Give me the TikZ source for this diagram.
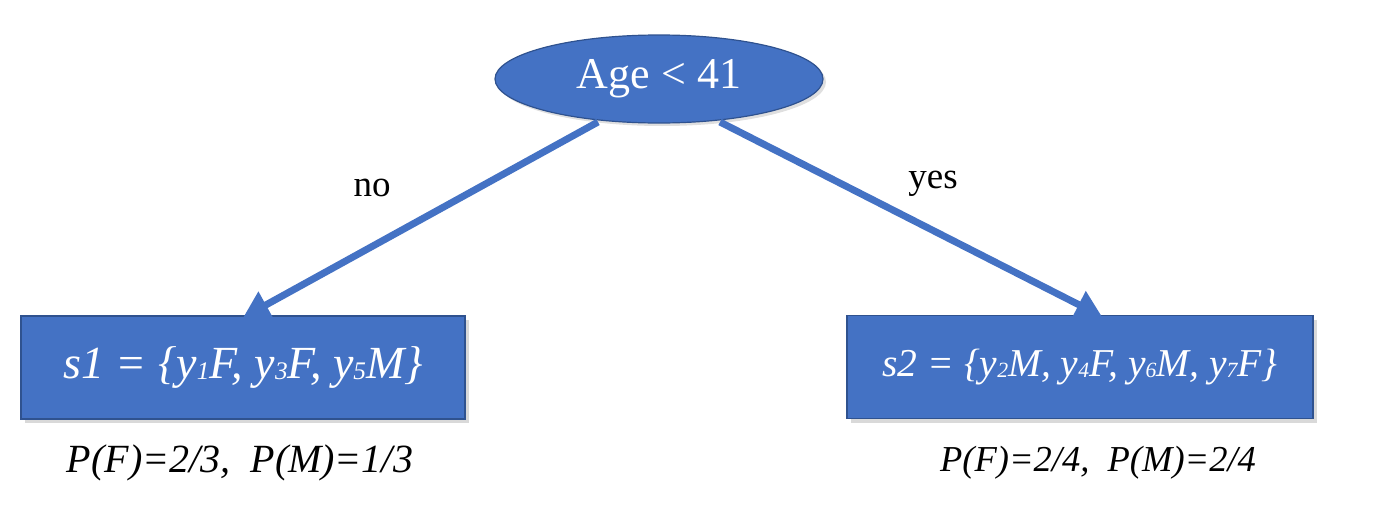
\documentclass[tikz,border=0pt]{standalone}
\usepackage{fontspec}
\setmainfont{Liberation Serif}
\usetikzlibrary{shapes.geometric,shadows,arrows.meta}
\definecolor{boxblue}{HTML}{4472C4}
\definecolor{boxedge}{HTML}{2F528F}
\tikzset{
  splitnode/.style={ellipse, fill=boxblue, draw=boxedge, line width=1.2pt,
    minimum width=328pt, minimum height=88pt, inner sep=0pt, text=white,
    font=\fontsize{44}{48}\selectfont,
    drop shadow={opacity=0.25, shadow xshift=3pt, shadow yshift=-3pt}},
  leafnode/.style={rectangle, fill=boxblue, draw=boxedge, line width=1.2pt,
    minimum height=103pt, inner sep=0pt, text=white,
    drop shadow={opacity=0.3, shadow xshift=4pt, shadow yshift=-4pt}},
  edgearrow/.style={draw=boxblue, line width=7pt,
    -{Triangle[length=26pt,width=29pt]}, shorten >=-1pt},
  edgelabel/.style={font=\fontsize{37}{40}\selectfont, text=black},
  probtext/.style={font=\itshape, text=black}
}
\newcommand{\sbs}[1]{\raisebox{-1pt}{\fontsize{0.55em}{0.55em}\selectfont #1}}
\begin{document}
\begin{tikzpicture}[x=1pt,y=1pt]
\useasboundingbox (0,0) rectangle (1400,-506);
\node[splitnode] (root) at (659,-79) {\raisebox{-2pt}{Age < 41}};
\node[leafnode, minimum width=444pt, font=\fontsize{46}{50}\selectfont\itshape] (s1) at (243,-367.5) {s1 = \{y\sbs{1}F, y\sbs{3}F, y\sbs{5}M\}};
\node[leafnode, minimum width=466pt, font=\fontsize{39.5}{44}\selectfont\itshape] (s2) at (1080,-367) {s2 = \{y\sbs{2}M, y\sbs{4}F, y\sbs{6}M, y\sbs{7}F\}};
\coordinate (rl) at (598,-122);
\coordinate (rr) at (720,-122);
\coordinate (t1) at (244,-317);
\coordinate (t2) at (1101,-316);
\draw[edgearrow] (rl) -- (t1);
\draw[edgearrow] (rr) -- (t2);
\node[edgelabel] (no) at (372,-188) {no};
\node[edgelabel] (yes) at (933,-184) {yes};
\node[probtext, font=\fontsize{40}{44}\selectfont\itshape] (p1) at (240,-463) {P(F)=2/3,\ \ P(M)=1/3};
\node[probtext, font=\fontsize{36.5}{40}\selectfont\itshape] (p2) at (1098,-463) {P(F)=2/4,\ \ P(M)=2/4};
\end{tikzpicture}
\end{document}
